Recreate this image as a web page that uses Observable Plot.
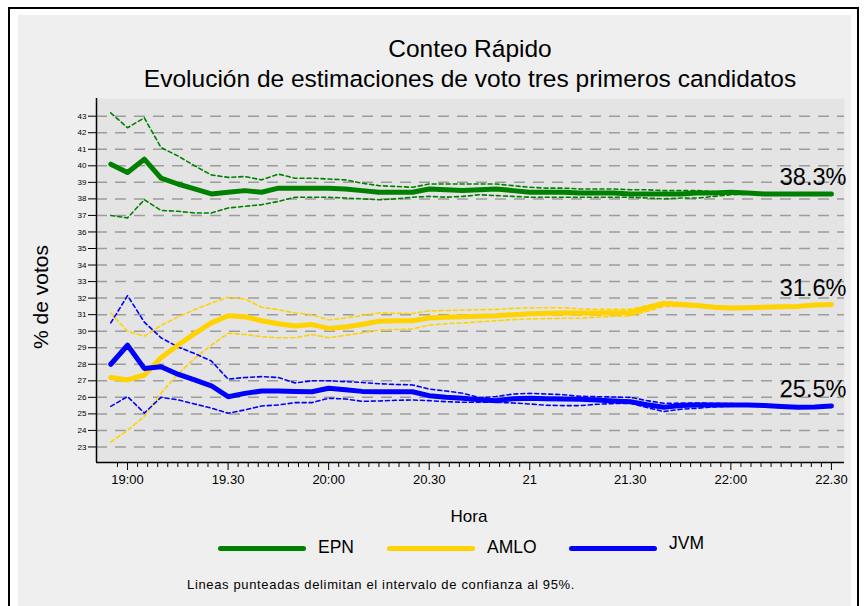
<!DOCTYPE html>
<html><head><meta charset="utf-8">
<script src="https://cdn.jsdelivr.net/npm/d3@7"></script>
<script src="https://cdn.jsdelivr.net/npm/@observablehq/plot@0.6"></script>
<style>
body{margin:0;background:#fff;font-family:"Liberation Sans",Arial,sans-serif;}
#page{position:relative;width:866px;height:606px;overflow:hidden;background:#fff;}
#frame{position:absolute;left:8px;top:7px;width:851px;height:660px;border:2px solid #000;box-sizing:border-box;}
#fill{position:absolute;left:18px;top:15px;width:833px;height:640px;background:#efefef;}
#chart{position:absolute;left:0;top:0;}
.t{position:absolute;white-space:nowrap;color:#000;line-height:1;}
.sw{position:absolute;height:5px;border-radius:3px;}
</style></head><body>
<div id="page">
 <div id="frame"></div><div id="fill"></div>
 <div id="chart"></div>
 <div class="t" style="left:0;width:940px;text-align:center;top:37px;font-size:24.5px;">Conteo Rápido</div>
 <div class="t" style="left:0;width:940px;text-align:center;top:67px;font-size:24.5px;">Evolución de estimaciones de voto tres primeros candidatos</div>
 <div class="t" style="left:0;width:938px;text-align:center;top:508px;font-size:17px;">Hora</div>
 <div class="t" style="left:40px;top:297px;font-size:21px;transform:translate(-50%,-50%) rotate(-90deg);">% de votos</div>
 <div id="legend"></div>
 <div class="t" style="left:187px;top:578px;font-size:13px;letter-spacing:0.65px;">Lineas punteadas delimitan el intervalo de confianza al 95%.</div>
</div>
<script>
// ---- data ----
const hora = ["18:55","19:00","19:05","19:10","19:15","19:20","19:25","19:30","19:35","19:40","19:45","19:50","19:55",
  "20:00","20:05","20:10","20:15","20:20","20:25","20:30","20:35","20:40","20:45","20:50","20:55",
  "21:00","21:05","21:10","21:15","21:20","21:25","21:30","21:35","21:40","21:45","21:50","21:55",
  "22:00","22:05","22:10","22:15","22:20","22:25","22:30"];
const candidatos = ["EPN","AMLO","JVM"];
const colores = ["#008000","#ffd200","#0000ff"];
const epn = [40.1,39.6,40.4,39.25,38.9,38.6,38.3,38.4,38.5,38.4,38.65,38.65,38.65,38.65,38.6,38.5,38.4,38.4,38.4,38.6,38.55,38.5,38.55,38.6,38.5,38.4,38.4,38.4,38.35,38.35,38.35,38.3,38.3,38.3,38.3,38.35,38.35,38.4,38.35,38.3,38.3,38.3,38.3,38.3];
const epnSup = [43.2,42.3,42.9,41.1,40.6,40.0,39.45,39.3,39.35,39.15,39.5,39.25,39.25,39.2,39.15,38.95,38.8,38.75,38.7,38.9,38.9,38.9,38.9,38.9,38.8,38.7,38.65,38.65,38.6,38.6,38.6,38.55,38.55,38.5,38.5,38.5,38.45,38.42,38.38,38.35,38.33,38.32,38.31,38.3];
const epnInf = [37.0,36.85,37.95,37.3,37.25,37.15,37.15,37.45,37.55,37.65,37.85,38.1,38.1,38.1,38.05,38.0,37.95,38.0,38.1,38.15,38.1,38.15,38.25,38.2,38.15,38.1,38.1,38.1,38.1,38.1,38.1,38.1,38.05,38.0,38.05,38.05,38.15,38.25,38.28,38.27,38.28,38.28,38.29,38.3];
const amlo = [27.2,27.05,27.35,28.4,29.15,29.85,30.5,30.93,30.87,30.63,30.45,30.32,30.4,30.17,30.25,30.4,30.6,30.63,30.63,30.8,30.85,30.87,30.9,30.93,31.0,31.05,31.08,31.1,31.1,31.1,31.12,31.13,31.4,31.68,31.62,31.55,31.45,31.4,31.42,31.45,31.48,31.5,31.58,31.62];
const amloSup = [31.1,30.0,29.7,30.35,30.85,31.3,31.7,32.05,31.95,31.45,31.3,31.1,31.0,30.68,30.8,30.95,31.1,31.08,31.07,31.23,31.25,31.28,31.3,31.32,31.38,31.42,31.42,31.42,31.35,31.32,31.32,31.32,31.55,31.78,31.72,31.62,31.5,31.43,31.45,31.48,31.5,31.52,31.6,31.64];
const amloInf = [23.3,24.0,24.85,26.25,27.4,28.35,29.15,29.87,29.8,29.67,29.6,29.6,29.8,29.6,29.75,29.9,30.07,30.1,30.13,30.37,30.45,30.5,30.57,30.63,30.7,30.74,30.76,30.78,30.78,30.85,30.9,30.93,31.2,31.5,31.5,31.45,31.4,31.38,31.4,31.43,31.46,31.48,31.56,31.6];
const jvm = [28.0,29.15,27.75,27.85,27.4,27.05,26.7,26.04,26.24,26.38,26.38,26.35,26.34,26.55,26.46,26.36,26.34,26.34,26.34,26.1,26.0,25.94,25.86,25.8,25.92,25.94,25.92,25.9,25.88,25.84,25.78,25.74,25.55,25.4,25.5,25.54,25.54,25.54,25.54,25.5,25.45,25.4,25.42,25.48];
const jvmSup = [30.5,32.15,30.55,29.6,29.05,28.65,28.2,27.1,27.2,27.25,27.2,26.87,27.0,27.0,26.95,26.9,26.82,26.78,26.75,26.5,26.38,26.25,25.98,26.05,26.2,26.24,26.2,26.16,26.06,26.04,26.02,26.0,25.8,25.64,25.65,25.66,25.64,25.62,25.6,25.56,25.5,25.45,25.45,25.5];
const jvmInf = [25.45,26.05,25.05,26.0,25.85,25.6,25.35,25.04,25.24,25.48,25.54,25.68,25.68,25.94,25.9,25.76,25.78,25.82,25.84,25.8,25.74,25.7,25.7,25.7,25.66,25.6,25.52,25.5,25.5,25.58,25.62,25.64,25.38,25.14,25.28,25.34,25.42,25.46,25.5,25.46,25.4,25.36,25.38,25.46];
const etiquetasFinales = ["38.3%","31.6%","25.5%"];
const yTicks = [23,24,25,26,27,28,29,30,31,32,33,34,35,36,37,38,39,40,41,42,43];
const xMayor = ["19:00","19:30","20:00","20:30","21:00","21:30","22:00","22:30"];
const xEtiquetas = ["19:00","19.30","20:00","20.30","21","21.30","22:00","22.30"];

// ---- build ----
const toMin = h => { const [a,b] = h.split(":").map(Number); return (a-19)*60 + b; };
const estimaciones = [epn, amlo, jvm];
const superiores = [epnSup, amloSup, jvmSup];
const inferiores = [epnInf, amloInf, jvmInf];
const main = [], ci = [];
candidatos.forEach((c, k) => {
  hora.forEach((h, i) => {
    main.push({c, t: toMin(h), v: estimaciones[k][i]});
    ci.push({c, b: "sup", t: toMin(h), v: superiores[k][i]});
    ci.push({c, b: "inf", t: toMin(h), v: inferiores[k][i]});
  });
});
const fin = candidatos.map((c, k) => ({c, t: toMin(hora[hora.length-1]), v: estimaciones[k][hora.length-1], label: etiquetasFinales[k]}));
const minorTicks = [];
for (let m = -3; m <= 210; m += 3) if (m % 30 !== 0) minorTicks.push(m);
const xDom = [-9.26, 213.9], yDom = [22.06, 44.07];
const colorScale = {domain: candidatos, range: colores};
const mayorMin = xMayor.map(toMin);

const chart = Plot.plot({
  width: 866, height: 606,
  marginLeft: 96, marginRight: 22, marginTop: 98, marginBottom: 144,
  x: {domain: xDom},
  y: {domain: yDom},
  color: colorScale,
  style: {background: "transparent", fontFamily: "'Liberation Sans', Arial, sans-serif", color: "#000"},
  marks: [
    Plot.frame({fill: "#e4e4e4", stroke: "none"}),
    Plot.ruleY(yTicks, {stroke: "#9c9c9c", strokeWidth: 1.5, strokeDasharray: "11,8"}),
    Plot.axisY({ticks: yTicks, tickSize: 8, tickPadding: 2, fontSize: 8, label: null, tickFormat: d => d}),
    Plot.axisX({ticks: minorTicks, tickSize: 5, tickFormat: () => "", label: null}),
    Plot.axisX({ticks: mayorMin, tickSize: 8, tickPadding: 4, fontSize: 13, label: null,
      tickFormat: d => xEtiquetas[mayorMin.indexOf(d)]}),
    Plot.ruleX([xDom[0]], {stroke: "#000", strokeWidth: 1.5}),
    Plot.ruleY([yDom[0]], {stroke: "#000", strokeWidth: 1.5}),
    Plot.line(ci, {x: "t", y: "v", z: d => d.c + d.b, stroke: "c", strokeWidth: 1.6, strokeDasharray: "4,3"}),
    Plot.line(main, {x: "t", y: "v", z: "c", stroke: "c", strokeWidth: 5, strokeLinejoin: "round", strokeLinecap: "round"}),
    Plot.text(fin, {x: "t", y: "v", text: "label", textAnchor: "end", dx: 15, dy: -16, fontSize: 23.5, fill: "#000"})
  ]
});
document.getElementById("chart").appendChild(chart);

// legend
const leg = document.getElementById("legend");
const legPos = [{x: 218, tx: 318, ty: 548}, {x: 387, tx: 487, ty: 548}, {x: 569, tx: 669, ty: 544}];
candidatos.forEach((c, k) => {
  const s = document.createElement("div");
  s.className = "sw";
  s.style.cssText = `left:${legPos[k].x}px;top:546px;width:88px;background:${colores[k]};`;
  leg.appendChild(s);
  const t = document.createElement("div");
  t.className = "t";
  t.style.cssText = `left:${legPos[k].tx}px;top:${legPos[k].ty - 9}px;font-size:17.5px;`;
  t.textContent = c;
  leg.appendChild(t);
});
</script>
</body></html>
